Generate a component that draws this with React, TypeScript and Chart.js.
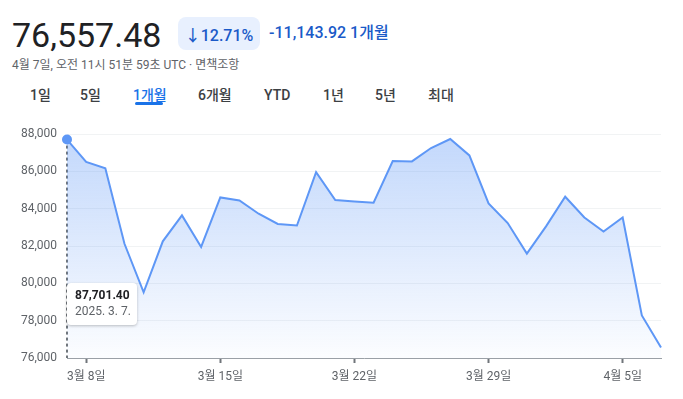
import React, { useEffect, useRef } from "react";
import { Chart, registerables } from "chart.js";

Chart.register(...registerables);

const labels = [
  "3월 7일", "3월 8일", "3월 9일", "3월 10일", "3월 11일", "3월 12일", "3월 13일", "3월 14일",
  "3월 15일", "3월 16일", "3월 17일", "3월 18일", "3월 19일", "3월 20일", "3월 21일", "3월 22일",
  "3월 23일", "3월 24일", "3월 25일", "3월 26일", "3월 27일", "3월 28일", "3월 29일", "3월 30일",
  "3월 31일", "4월 1일", "4월 2일", "4월 3일", "4월 4일", "4월 5일", "4월 6일", "4월 7일",
];

const prices = [
  87701.4, 86500, 86160, 82120, 79520, 82250, 83640, 81950,
  84600, 84440, 83730, 83180, 83100, 85960, 84460, 84390,
  84320, 86550, 86530, 87250, 87730, 86850, 84280, 83230,
  81590, 83050, 84640, 83530, 82770, 83530, 78280, 76557.48,
];

const shownTicks = ["3월 8일", "3월 15일", "3월 22일", "3월 29일", "4월 5일"];
const yTicks = [76000, 78000, 80000, 82000, 84000, 86000, 88000];
const tabs = ["1일", "5일", "1개월", "6개월", "YTD", "1년", "5년", "최대"];
const tabLefts = [30, 80, 133, 198, 264, 323, 375, 428];
const tooltipValue = "87,701.40";
const tooltipDate = "2025. 3. 7.";

const FONT = "Roboto, 'Noto Sans CJK KR', sans-serif";
const LINE = "#5e97f6";

const hoverPlugin = {
  id: "hoverPlugin",
  beforeDatasetsDraw(chart: any) {
    const meta = chart.getDatasetMeta(0);
    const pt = meta.data[0];
    if (!pt) return;
    const ctx = chart.ctx;
    ctx.save();
    ctx.strokeStyle = "#70757a";
    ctx.lineWidth = 2;
    ctx.setLineDash([3, 3]);
    ctx.beginPath();
    ctx.moveTo(pt.x, pt.y);
    ctx.lineTo(pt.x, chart.chartArea.bottom);
    ctx.stroke();
    ctx.restore();
  },
  afterDraw(chart: any) {
    const meta = chart.getDatasetMeta(0);
    const pt = meta.data[0];
    if (!pt) return;
    const ctx = chart.ctx;
    const x = pt.x;
    const y = chart.chartArea.bottom - 75;
    const w = 70;
    const h = 42;
    ctx.save();
    ctx.shadowColor = "rgba(0,0,0,0.25)";
    ctx.shadowBlur = 3;
    ctx.shadowOffsetY = 1;
    ctx.fillStyle = "#ffffff";
    ctx.beginPath();
    (ctx as any).roundRect(x, y, w, h, 4);
    ctx.fill();
    ctx.restore();
    ctx.save();
    ctx.textBaseline = "middle";
    ctx.textAlign = "left";
    ctx.fillStyle = "#202124";
    ctx.font = `bold 12px ${FONT}`;
    ctx.fillText(tooltipValue, x + 8, y + 13);
    ctx.fillStyle = "#5f6368";
    ctx.font = `12px ${FONT}`;
    ctx.fillText(tooltipDate, x + 8, y + 29);
    ctx.restore();
  },
};

function ChartView() {
  const ref = useRef<HTMLCanvasElement | null>(null);
  useEffect(() => {
    if (!ref.current) return;
    const chart = new Chart(ref.current, {
      type: "line",
      data: {
        labels,
        datasets: [
          {
            data: prices,
            borderColor: LINE,
            borderWidth: 2,
            tension: 0,
            fill: "start",
            clip: false as any,
            backgroundColor: (c: any) => {
              const area = c.chart.chartArea;
              if (!area) return "rgba(94,151,246,0.3)";
              const g = c.chart.ctx.createLinearGradient(0, area.top, 0, area.bottom);
              g.addColorStop(0, "rgba(94,151,246,0.38)");
              g.addColorStop(1, "rgba(94,151,246,0.02)");
              return g;
            },
            pointRadius: (c: any) => (c.dataIndex === 0 ? 5 : 0),
            pointBackgroundColor: LINE,
            pointBorderWidth: 0,
            pointHoverRadius: 0,
          },
        ],
      },
      options: {
        animation: false,
        responsive: false,
        events: [],
        layout: { padding: { top: 24, right: 22, bottom: 0, left: 0 } },
        plugins: { legend: { display: false }, tooltip: { enabled: false } },
        scales: {
          x: {
            type: "category",
            offset: false,
            afterFit: (s: any) => {
              s.height = 41;
            },
            border: { display: true, color: "#9aa0a6", width: 1 },
            grid: {
              drawOnChartArea: false,
              drawTicks: true,
              tickLength: 5,
              tickWidth: 2,
              tickColor: (c: any) =>
                c.tick && c.tick.label ? "#70757a" : "rgba(0,0,0,0)",
            },
            ticks: {
              autoSkip: false,
              maxRotation: 0,
              padding: 7,
              color: "#5f6368",
              font: { family: FONT, size: 12 },
              callback: (_v: any, i: number) =>
                shownTicks.includes(labels[i]) ? labels[i] : null,
            },
          },
          y: {
            min: yTicks[0],
            max: yTicks[yTicks.length - 1],
            afterFit: (s: any) => {
              s.width = 67;
            },
            afterBuildTicks: (s: any) => {
              s.ticks = yTicks.map((v) => ({ value: v }));
            },
            border: { display: false },
            grid: { color: "#f1f3f4", drawTicks: false, lineWidth: 1 },
            ticks: {
              padding: 10,
              color: "#5f6368",
              font: { family: FONT, size: 12 },
              callback: (v: any) => Number(v).toLocaleString("en-US"),
            },
          },
        },
      },
      plugins: [hoverPlugin],
    } as any);
    return () => chart.destroy();
  }, []);
  return <canvas ref={ref} width={683} height={289} style={{ display: "block" }} />;
}

export default function App() {
  return (
    <div
      style={{
        position: "fixed",
        left: 0,
        top: 0,
        width: 683,
        height: 399,
        background: "#fff",
        fontFamily: FONT,
        overflow: "hidden",
      }}
    >
      <div
        style={{
          position: "absolute",
          left: 12,
          top: 15,
          fontSize: 34,
          lineHeight: "40px",
          color: "#202124",
          fontWeight: 400,
        }}
      >
        76,557.48
      </div>
      <div
        style={{
          position: "absolute",
          left: 178,
          top: 17,
          width: 82,
          height: 33,
          borderRadius: 8,
          background: "#e8f0fe",
          color: "#1a5ac8",
          fontSize: 16,
          fontWeight: 500,
          display: "flex",
          alignItems: "center",
          justifyContent: "center",
        }}
      >
        ↓12.71%
      </div>
      <div
        style={{
          position: "absolute",
          left: 269,
          top: 22,
          fontSize: 16,
          lineHeight: "22px",
          fontWeight: 500,
          color: "#1a5ac8",
        }}
      >
        -11,143.92 1개월
      </div>
      <div
        style={{
          position: "absolute",
          left: 12,
          top: 57,
          fontSize: 12,
          lineHeight: "16px",
          color: "#5f6368",
        }}
      >
        4월 7일, 오전 11시 51분 59초 UTC · 면책조항
      </div>
      {tabs.map((t, i) => (
        <div
          key={t}
          style={{
            position: "absolute",
            left: tabLefts[i],
            top: 85,
            fontSize: 14,
            lineHeight: "20px",
            fontWeight: 500,
            color: t === "1개월" ? "#1a73e8" : "#3c4043",
          }}
        >
          {t}
        </div>
      ))}
      <div
        style={{
          position: "absolute",
          left: 135,
          top: 102,
          width: 28,
          height: 3,
          borderRadius: 2,
          background: "#1a73e8",
        }}
      />
      <div style={{ position: "absolute", left: 0, top: 110 }}>
        <ChartView />
      </div>
    </div>
  );
}
